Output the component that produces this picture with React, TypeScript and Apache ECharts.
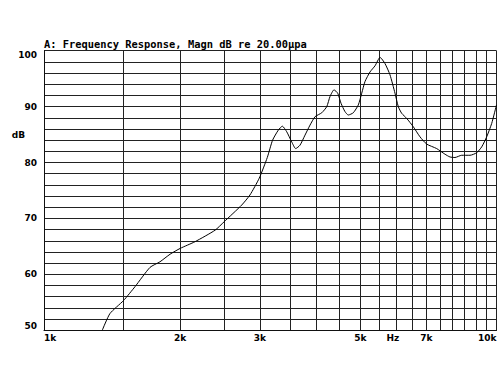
import React, { useEffect, useRef } from "react";
import * as echarts from "echarts";

const titleText = "A: Frequency Response, Magn dB re 20.00\u00b5pa";

const freqsHz = [
  1345, 1399, 1498, 1589, 1715, 1804, 1899, 2000, 2157, 2388, 2500, 2735, 2852,
  2990, 3115, 3200, 3295, 3363, 3439, 3527, 3599, 3679, 3774, 3872, 3972, 4110,
  4216, 4286, 4374, 4457, 4533, 4626, 4704, 4825, 4950, 5037, 5122, 5254, 5390,
  5529, 5670, 5815, 5966, 6067, 6173, 6331, 6548, 6775, 7010, 7375, 7690, 7890,
  8094, 8375, 8738, 9040, 9275, 9513, 9759, 10000,
];
const magnDb = [
  50.0, 53.0, 55.3, 57.8, 61.25, 62.25, 63.6, 64.65, 65.85, 67.9, 69.4, 72.4, 74.2,
  77.2, 80.9, 84.0, 85.8, 86.5, 85.5, 83.7, 82.5, 83.1, 84.9, 86.7, 88.2, 88.9,
  90.0, 91.8, 93.0, 92.4, 90.6, 89.1, 88.5, 88.9, 90.3, 92.4, 94.5, 96.2, 97.3,
  98.8, 97.7, 95.7, 92.4, 90.0, 88.8, 87.9, 86.4, 84.6, 83.3, 82.5, 81.5, 81.0,
  80.9, 81.3, 81.3, 81.75, 82.8, 84.6, 87.0, 90.3,
];

const gridFreqs = [
  1000, 1500, 2000, 2500, 3000, 3500, 4000, 4500, 5000, 5500, 6000, 6500, 7000,
  7500, 8000, 8500, 9000, 9500, 10000,
];
const xLabelFreqs = [1000, 2000, 3000, 5000, 5900, 7000, 10000];
const xLabelTexts = ["1k", "2k", "3k", "5k", "Hz", "7k", "10k"];
const yLabelValues = [50, 60, 70, 80, 85, 90, 100];
const yLabelTexts = ["50", "60", "70", "80", "dB", "90", "100"];

export default function App() {
  const ref = useRef<HTMLDivElement>(null);
  useEffect(() => {
    if (!ref.current) return;
    const chart = echarts.init(ref.current, null, { renderer: "svg" });
    const xLabelLogs = xLabelFreqs.map((f) => Math.log10(f));
    const labelFont = {
      fontFamily: "DejaVu Sans",
      fontWeight: "bold" as const,
      fontSize: 9,
      color: "#000",
    };
    chart.setOption({
      animation: false,
      backgroundColor: "#fff",
      title: {
        text: titleText,
        left: 44,
        top: 39,
        padding: 0,
        textStyle: {
          fontFamily: "DejaVu Sans Mono",
          fontWeight: "bold",
          fontSize: 10.4,
          color: "#000",
        },
      },
      grid: { left: 44, right: 3.5, top: 50.7, bottom: 44.7, containLabel: false },
      xAxis: {
        type: "value",
        min: 3,
        max: 4,
        axisLine: { show: true, lineStyle: { color: "#111", width: 1 } },
        axisTick: { show: false, customValues: gridFreqs.map((f) => Math.log10(f)) },
        splitLine: { show: true, lineStyle: { color: "#222", width: 1 } },
        axisLabel: {
          ...labelFont,
          margin: 3,
          customValues: xLabelLogs,
          alignMinLabel: "left",
          alignMaxLabel: "right",
          formatter: (v: number) => {
            let best = 0;
            for (let i = 0; i < xLabelLogs.length; i++) {
              if (Math.abs(xLabelLogs[i] - v) < Math.abs(xLabelLogs[best] - v)) best = i;
            }
            return xLabelTexts[best];
          },
        },
      },
      yAxis: {
        type: "value",
        min: 50,
        max: 100,
        interval: 2,
        axisLine: { show: true, lineStyle: { color: "#111", width: 1 } },
        axisTick: { show: false },
        splitLine: { show: true, lineStyle: { color: "#222", width: 1 } },
        axisLabel: {
          ...labelFont,
          margin: 7,
          customValues: yLabelValues,
          verticalAlignMinLabel: "bottom",
          verticalAlignMaxLabel: "top",
          formatter: (v: number) => {
            const i = yLabelValues.indexOf(Math.round(v));
            const t = i >= 0 ? yLabelTexts[i] : "";
            return t === "dB" ? "{d|dB}" : t;
          },
          rich: {
            d: { ...labelFont, padding: [0, 12, 0, 0] },
          },
        },
      },
      series: [
        {
          type: "line",
          data: freqsHz.map((f, i) => [Math.log10(f), magnDb[i]]),
          showSymbol: false,
          smooth: 0.2,
          lineStyle: { color: "#000", width: 1 },
        },
      ],
    });
    return () => chart.dispose();
  }, []);
  return (
    <div
      ref={ref}
      style={{ position: "fixed", left: 0, top: 0, width: 500, height: 375 }}
    />
  );
}
